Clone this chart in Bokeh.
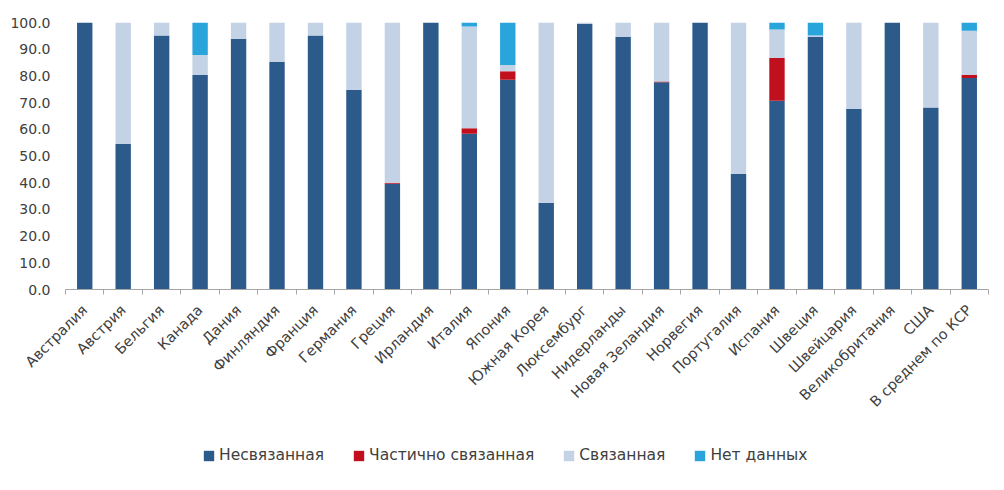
import numpy as np
from bokeh.plotting import figure
from bokeh.layouts import column
from bokeh.models import (ColumnDataSource, Range1d, FixedTicker, NumeralTickFormatter,
                          Legend, LegendItem)
from bokeh.embed import file_html
from bokeh.resources import INLINE

categories = ["Австралия", "Австрия", "Бельгия", "Канада", "Дания", "Финляндия",
              "Франция", "Германия", "Греция", "Ирландия", "Италия", "Япония",
              "Южная Корея", "Люксембург", "Нидерланды", "Новая Зеландия", "Норвегия",
              "Португалия", "Испания", "Швеция", "Швейцария", "Великобритания", "США",
              "В среднем по КСР"]

unbound = [100.0, 54.5, 95.1, 80.3, 93.9, 85.2, 95.1, 74.8, 39.6, 100.0, 58.3, 78.6,
           32.5, 99.4, 94.6, 77.6, 100.0, 43.3, 70.7, 94.6, 67.6, 100.0, 68.2, 79.2]
partial = [0.0, 0.0, 0.0, 0.0, 0.0, 0.0, 0.0, 0.0, 0.4, 0.0, 2.1, 3.1,
           0.0, 0.0, 0.0, 0.3, 0.0, 0.0, 16.0, 0.0, 0.0, 0.0, 0.0, 1.2]
bound = [0.0, 45.5, 4.9, 7.5, 6.1, 14.8, 4.9, 25.2, 60.0, 0.0, 38.1, 2.4,
         67.5, 0.6, 5.4, 22.1, 0.0, 56.7, 10.7, 0.5, 32.4, 0.0, 31.8, 16.5]
nodata = [0.0, 0.0, 0.0, 12.2, 0.0, 0.0, 0.0, 0.0, 0.0, 0.0, 1.5, 15.9,
          0.0, 0.0, 0.0, 0.0, 0.0, 0.0, 2.6, 4.9, 0.0, 0.0, 0.0, 3.1]

series_names = ["Несвязанная", "Частично связанная", "Связанная", "Нет данных"]
colors = ["#2C5A8A", "#C0101E", "#C4D2E6", "#2AA5DC"]
y_ticks = [0, 10, 20, 30, 40, 50, 60, 70, 80, 90, 100]

n = len(categories)
xpos = np.arange(n) + 0.5
keys = ["unbound", "partial", "bound", "nodata"]
source = ColumnDataSource(dict(x=xpos, unbound=unbound, partial=partial,
                               bound=bound, nodata=nodata))

FONT = "DejaVu Sans"
TXT = "#404040"

p = figure(frame_width=923, frame_height=267, output_backend="svg", toolbar_location=None,
           x_range=Range1d(0, n), y_range=Range1d(0, 100),
           min_border_left=65, min_border_right=8, min_border_top=22,
           min_border_bottom=150)
p.outline_line_color = None
p.grid.grid_line_color = None

renderers = p.vbar_stack(keys, x="x", width=0.4, color=colors, source=source,
                         line_color=None)

# y axis
p.yaxis.ticker = FixedTicker(ticks=y_ticks)
p.yaxis.formatter = NumeralTickFormatter(format="0.0")
p.yaxis.axis_line_color = None
p.yaxis.major_tick_line_color = None
p.yaxis.minor_tick_line_color = None
p.yaxis.major_tick_out = 0
p.yaxis.major_label_standoff = 15
p.yaxis.major_label_text_font = FONT
p.yaxis.major_label_text_font_size = "14px"
p.yaxis.major_label_text_color = TXT

# x axis: labels at centers, tick marks at boundaries
p.xaxis.ticker = FixedTicker(ticks=list(xpos), minor_ticks=list(np.arange(n + 1)))
p.xaxis.major_label_overrides = {float(x): c for x, c in zip(xpos, categories)}
p.xaxis.major_label_orientation = np.pi / 4
p.xaxis.major_tick_line_color = None
p.xaxis.minor_tick_in = 0
p.xaxis.minor_tick_out = 5
p.xaxis.minor_tick_line_color = "#A6A6A6"
p.xaxis.axis_line_color = "#A6A6A6"
p.xaxis.major_label_standoff = 12
p.xaxis.major_label_text_font = FONT
p.xaxis.major_label_text_font_size = "14.5px"
p.xaxis.major_label_text_color = TXT

# legend strip (its bars lie far below the visible y range; only the legend shows)
lf = figure(width=996, height=34, output_backend="svg", toolbar_location=None,
            x_range=Range1d(0, n), y_range=Range1d(1000, 1001),
            x_axis_type=None, y_axis_type=None, min_border=0)
lf.outline_line_color = None
lf.grid.grid_line_color = None
lrs = lf.vbar_stack(keys, x="x", width=0.4, color=colors, source=source, line_color=None)

legend = Legend(items=[LegendItem(label=nm, renderers=[r]) for nm, r in zip(series_names, lrs)],
                orientation="horizontal", location=(137, 8))
legend.border_line_color = None
legend.background_fill_alpha = 0
legend.padding = 0
legend.margin = 0
legend.label_text_font = FONT
legend.label_text_font_size = "15.5px"
legend.label_text_color = TXT
legend.label_height = 20
legend.glyph_width = 13
legend.glyph_height = 13
legend.spacing = 28
legend.label_standoff = 4
lf.add_layout(legend, "center")

layout = column(p, lf)
open("out.html", "w").write(file_html(layout, INLINE))
